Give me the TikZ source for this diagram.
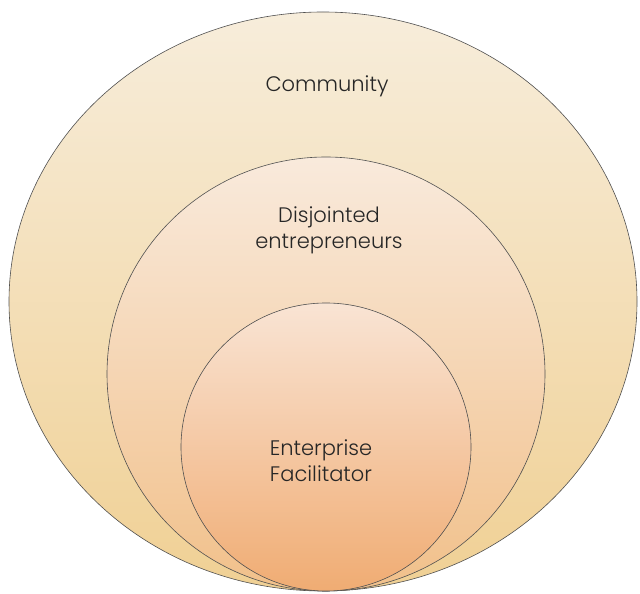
\documentclass[tikz,border=0pt]{standalone}
\usepackage{fontspec}
\setmainfont{Poppins}[UprightFont = * Light]
\definecolor{outerTop}{RGB}{247,237,219}
\definecolor{outerBot}{RGB}{240,208,148}
\definecolor{midTop}{RGB}{249,234,220}
\definecolor{midBot}{RGB}{241,192,138}
\definecolor{innTop}{RGB}{249,228,212}
\definecolor{innBot}{RGB}{240,172,115}
\definecolor{edge}{RGB}{80,80,80}
\begin{document}
\begin{tikzpicture}[x=1pt,y=1pt,
  ring/.style={draw=edge,line width=0.6pt},
  lbl/.style={align=center,font=\fontsize{21}{26}\selectfont,text=black!85}]
\useasboundingbox (0,0) rectangle (640,594);
\shade[top color=outerTop,bottom color=outerBot] (323,292.5) ellipse (314 and 289.5);
\draw[ring] (323,292.5) ellipse (314 and 289.5);
\shade[top color=midTop,bottom color=midBot] (326,220) ellipse (219 and 217);
\draw[ring] (326,220) ellipse (219 and 217);
\shade[top color=innTop,bottom color=innBot] (326,147) ellipse (145 and 144);
\draw[ring] (326,147) ellipse (145 and 144);
\node[lbl] (community) at (327,508) {Community};
\node[lbl] (disjointed) at (329,364) {Disjointed\\entrepreneurs};
\node[lbl] (facilitator) at (321,133) {Enterprise\\Facilitator};
\end{tikzpicture}
\end{document}
